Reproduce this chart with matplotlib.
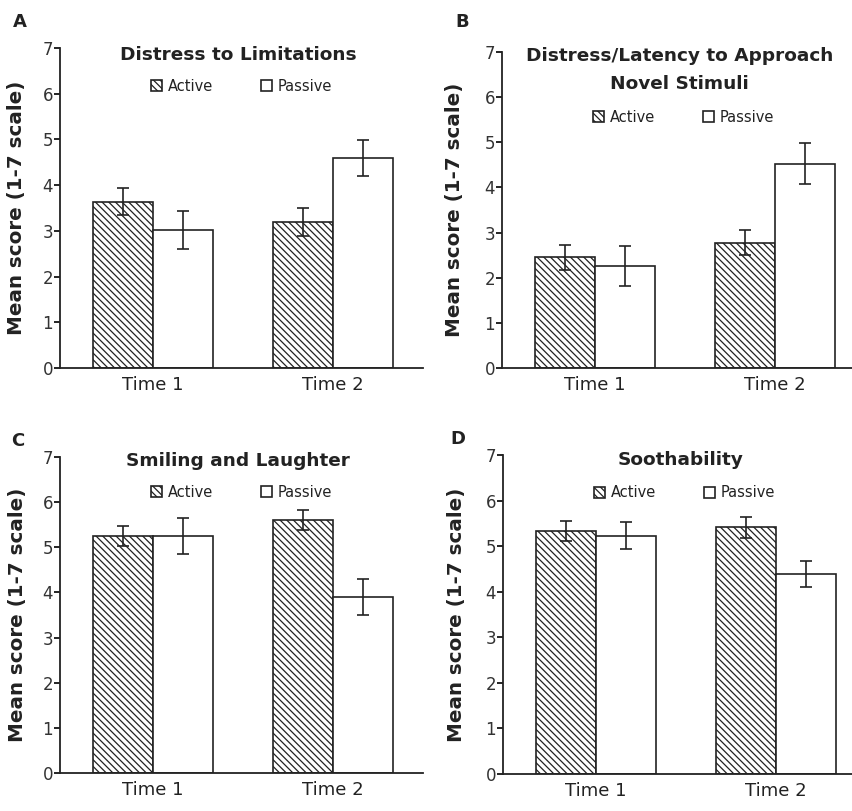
import matplotlib
matplotlib.use('Agg')
import matplotlib.pyplot as plt
import numpy as np

plt.rcParams['font.family'] = 'DejaVu Sans'
plt.rcParams['hatch.linewidth'] = 0.9
plt.rcParams['hatch.color'] = '#222222'

times = ['Time 1', 'Time 2']
letters = ['A', 'B', 'C', 'D']
titles = ['Distress to Limitations',
          'Distress/Latency to Approach\nNovel Stimuli',
          'Smiling and Laughter',
          'Soothability']

active_means = [[3.64, 3.20], [2.45, 2.78], [5.25, 5.60], [5.34, 5.41]]
active_err = [[0.30, 0.31], [0.27, 0.28], [0.23, 0.22], [0.22, 0.23]]
passive_means = [[3.02, 4.59], [2.26, 4.53], [5.25, 3.89], [5.23, 4.39]]
passive_err = [[0.42, 0.40], [0.45, 0.45], [0.40, 0.40], [0.30, 0.28]]

# panel boxes in pixels: left, top(y=7), bottom(y=0)
W, H = 852, 811
boxes = [(60, 48, 368), (502, 52, 368), (60, 457, 773), (503, 455, 774)]
ax_w = 363
title_y = [0.977, 0.943, 0.986, 0.984]
legend_y = [0.881, 0.794, 0.888, 0.881]
ylabel_x = [-0.094, -0.105, -0.091, -0.102]
letter_pos = [(20, 22), (462, 22), (18, 441), (458, 439)]

txt = '#222222'

fig = plt.figure(figsize=(W / 100, H / 100), dpi=100)

x = np.arange(len(times))
bw = 0.335

for i in range(4):
    l, t, b = boxes[i]
    ax = fig.add_axes([l / W, (H - b) / H, ax_w / W, (b - t) / H])

    ek = dict(ecolor=txt, elinewidth=1.2, capthick=1.2)
    ba = ax.bar(x - bw / 2, active_means[i], bw, yerr=active_err[i], capsize=4,
                facecolor='white', edgecolor='#222222', linewidth=1.2,
                hatch='\\\\\\\\\\', error_kw=ek, label='Active')
    bp = ax.bar(x + bw / 2, passive_means[i], bw, yerr=passive_err[i], capsize=4,
                facecolor='white', edgecolor='#222222', linewidth=1.2,
                error_kw=ek, label='Passive')

    ax.set_xlim(-0.517, 1.5)
    ax.set_ylim(0, 7)
    ax.set_yticks(range(0, 8))
    ax.set_xticks(x)
    ax.set_xticklabels(times, fontsize=13, color=txt)
    ax.tick_params(axis='x', length=0, pad=6)
    ax.tick_params(axis='y', length=4, width=1.2, pad=1, labelsize=12, labelcolor='#333333')
    for s in ['top', 'right']:
        ax.spines[s].set_visible(False)
    for s in ['left', 'bottom']:
        ax.spines[s].set_linewidth(1.3)
        ax.spines[s].set_color('#222222')

    ax.set_ylabel('Mean score (1-7 scale)', fontsize=14.3, fontweight='bold', color=txt)
    ax.yaxis.set_label_coords(ylabel_x[i], 0.5)

    ax.text(0.49, title_y[i], titles[i], transform=ax.transAxes, ha='center', va='center',
            fontsize=13.3, fontweight='bold', color=txt, linespacing=1.75)

    ax.legend(handles=[ba, bp], loc='center', bbox_to_anchor=(0.5, legend_y[i]), ncol=2,
              frameon=False, fontsize=10.5, handlelength=0.75, handleheight=0.75,
              handletextpad=0.4, columnspacing=3.3, labelcolor=txt)

    fig.text(letter_pos[i][0] / W, 1 - letter_pos[i][1] / H, letters[i], fontsize=13,
             fontweight='bold', color=txt, ha='center', va='center')

fig.savefig('out.png', dpi=100)
